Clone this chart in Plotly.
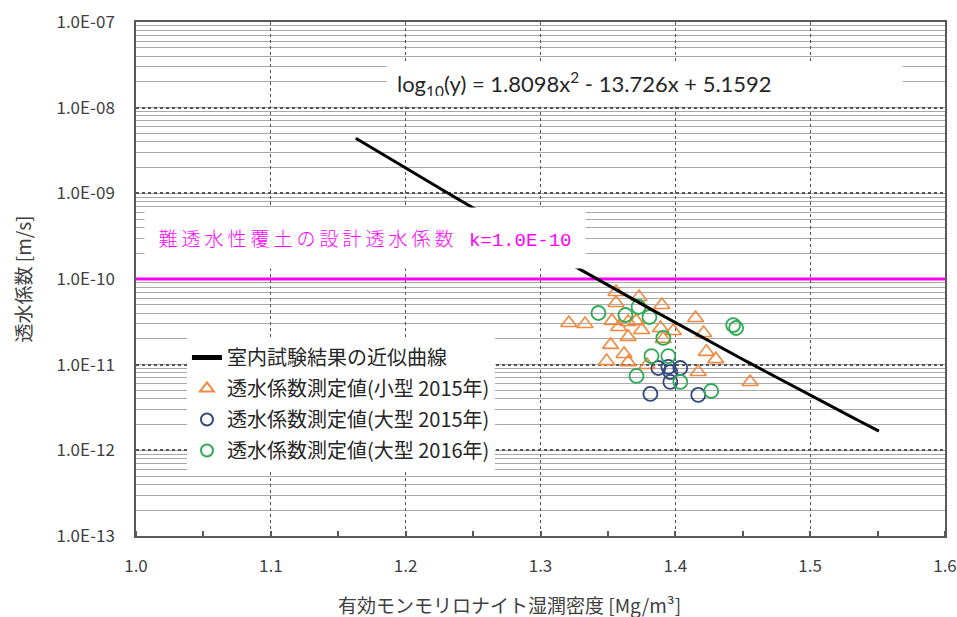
import numpy as np
import plotly.graph_objects as go

# ---- data -------------------------------------------------------------
# fitted curve: log10(k) = a*x^2 + b*x + c
fit_a, fit_b, fit_c = 1.8098, -13.726, 5.1592
fit_x_range = [1.163, 1.551]

# design permeability of the low-permeability cover soil
design_k = 1.0e-10
design_x = [1.0, 1.6]

# measured permeability, small specimens (2015)
small15_x = [1.321, 1.333, 1.356, 1.356, 1.373, 1.390, 1.415, 1.353, 1.358,
             1.365, 1.371, 1.375, 1.365, 1.352, 1.362, 1.349, 1.365, 1.389,
             1.3985, 1.421, 1.391, 1.423, 1.430, 1.417, 1.4555, 1.379]
small15_y = [3.07e-11, 2.98e-11, 7.05e-11, 5.25e-11, 6.17e-11, 4.97e-11,
             3.51e-11, 3.24e-11, 2.75e-11, 3.15e-11, 3.24e-11, 2.54e-11,
             2.11e-11, 1.70e-11, 1.33e-11, 1.10e-11, 1.07e-11, 2.68e-11,
             2.47e-11, 2.34e-11, 2.00e-11, 1.41e-11, 1.16e-11, 8.2e-12,
             6.28e-12, 9.9e-12]

# measured permeability, large specimens (2015)
large15_x = [1.3874, 1.3948, 1.4037, 1.3963, 1.3963, 1.3815, 1.4170]
large15_y = [9.14e-12, 9.4e-12, 9.14e-12, 8.2e-12, 6.28e-12, 4.55e-12, 4.43e-12]

# measured permeability, large specimens (2016)
large16_x = [1.343, 1.363, 1.3727, 1.3808, 1.3911, 1.3823, 1.3948, 1.3712,
             1.4037, 1.4266, 1.4429, 1.4451]
large16_y = [4.01e-11, 3.80e-11, 4.71e-11, 3.60e-11, 2.05e-11, 1.26e-11,
             1.26e-11, 7.38e-12, 6.28e-12, 4.93e-12, 2.90e-11, 2.68e-11]

y_tick_vals = [1e-13, 1e-12, 1e-11, 1e-10, 1e-9, 1e-8, 1e-7]
y_tick_text = ["1.0E-13", "1.0E-12", "1.0E-11", "1.0E-10",
               "1.0E-09", "1.0E-08", "1.0E-07"]
x_tick_vals = [1.0, 1.1, 1.2, 1.3, 1.4, 1.5, 1.6]
x_tick_text = ["1.0", "1.1", "1.2", "1.3", "1.4", "1.5", "1.6"]

legend_names = ["室内試験結果の近似曲線",
                "透水係数測定値(小型 2015年)",
                "透水係数測定値(大型 2015年)",
                "透水係数測定値(大型 2016年)"]

# ---- styling ----------------------------------------------------------
FONT = "Noto Sans CJK JP"
TXT = "#404040"
ORANGE = "#F0883E"
NAVY = "#34497F"
GREEN = "#2EAA55"
MAGENTA = "#FF00FF"
GRID_MAJOR = "#555555"

fit_x = np.linspace(fit_x_range[0], fit_x_range[1], 200)
fit_y = 10 ** (fit_a * fit_x ** 2 + fit_b * fit_x + fit_c)

fig = go.Figure()

fig.add_trace(go.Scatter(
    x=design_x, y=[design_k, design_k], mode="lines",
    line=dict(color=MAGENTA, width=3), showlegend=False, hoverinfo="skip"))

fig.add_trace(go.Scatter(
    x=small15_x, y=small15_y, mode="markers", name=legend_names[1],
    legendgroup="g2", legendrank=2,
    marker=dict(symbol="triangle-up-open", size=14, color=ORANGE,
                line=dict(width=1.6, color=ORANGE))))

fig.add_trace(go.Scatter(
    x=large15_x, y=large15_y, mode="markers", name=legend_names[2],
    legendgroup="g3", legendrank=3,
    marker=dict(symbol="circle-open", size=14, color=NAVY,
                line=dict(width=1.8, color=NAVY))))

fig.add_trace(go.Scatter(
    x=large16_x, y=large16_y, mode="markers", name=legend_names[3],
    legendgroup="g4", legendrank=4,
    marker=dict(symbol="circle-open", size=14, color=GREEN,
                line=dict(width=1.8, color=GREEN))))

fig.add_trace(go.Scatter(
    x=fit_x, y=fit_y, mode="lines", name=legend_names[0],
    legendgroup="g1", legendrank=1,
    line=dict(color="#000000", width=3)))

# regression equation
fig.add_annotation(
    xref="paper", yref="paper", x=0.6286, y=0.8794,
    xanchor="center", yanchor="middle",
    text="log<sub>10</sub>(y) = 1.8098x<sup>2</sup> - 13.726x + 5.1592",
    showarrow=False, align="left", width=495, height=24, borderpad=10,
    bgcolor="#FFFFFF", font=dict(family="Lato", size=22, color="#262626"))

# design value label
fig.add_annotation(
    xref="paper", yref="paper", x=0.2831, y=0.5798,
    xanchor="center", yanchor="middle",
    text=("<span style='letter-spacing:4px'>難透水性覆土の設計透水係数</span>"
          "<span style='font-family:Liberation Mono'> k=1.0E-10</span>"),
    showarrow=False, align="center", width=432, height=52, borderpad=4,
    bgcolor="#FFFFFF", font=dict(family=FONT, size=19, color=MAGENTA, weight=300))

# x-axis title
fig.add_annotation(
    xref="paper", yref="paper", x=0.4611, y=-0.134,
    xanchor="center", yanchor="middle", showarrow=False,
    text="有効モンモリロナイト湿潤密度 [Mg/m³]",
    font=dict(family=FONT, size=19, color=TXT))

fig.update_layout(
    width=957, height=617,
    margin=dict(l=136, r=12, t=22, b=81),
    paper_bgcolor="#FFFFFF", plot_bgcolor="#FFFFFF",
    font=dict(family=FONT, color=TXT),
    showlegend=True,
    legend=dict(
        x=0.063, y=0.3852, xanchor="left", yanchor="top",
        bgcolor="#FFFFFF", borderwidth=0, traceorder="grouped",
        tracegroupgap=2, itemsizing="constant",
        font=dict(family=FONT, size=20, color="#262626")),
    xaxis=dict(
        range=[1.0, 1.6], tickvals=x_tick_vals, ticktext=x_tick_text,
        showgrid=True, gridcolor=GRID_MAJOR, gridwidth=1.4, griddash="dot",
        showline=True, linecolor="#595959", linewidth=1.5, mirror=True,
        ticks="", ticklabelstandoff=14, ticklabeloverflow="allow",
        automargin=False, zeroline=False,
        tickfont=dict(size=17, color=TXT),
        minor=dict(dtick=0.05, ticks="inside", ticklen=5, tickcolor="#595959",
                   tickwidth=1.5, showgrid=False)),
    yaxis=dict(
        type="log", range=[-13, -7], tickvals=y_tick_vals, ticktext=y_tick_text,
        showgrid=True, gridcolor=GRID_MAJOR, gridwidth=1.6, griddash="dot",
        showline=True, linecolor="#595959", linewidth=1.5, mirror=True,
        ticks="", ticklabelstandoff=16, automargin=False, zeroline=False,
        tickfont=dict(size=17, color=TXT),
        minor=dict(dtick="D1", showgrid=True, gridcolor="#A8A8A8", gridwidth=1.3,
                   griddash="solid", ticks=""),
        title=dict(text="透水係数 [m/s]", font=dict(size=19, color=TXT), standoff=20)),
)

fig.write_html("out.html")
